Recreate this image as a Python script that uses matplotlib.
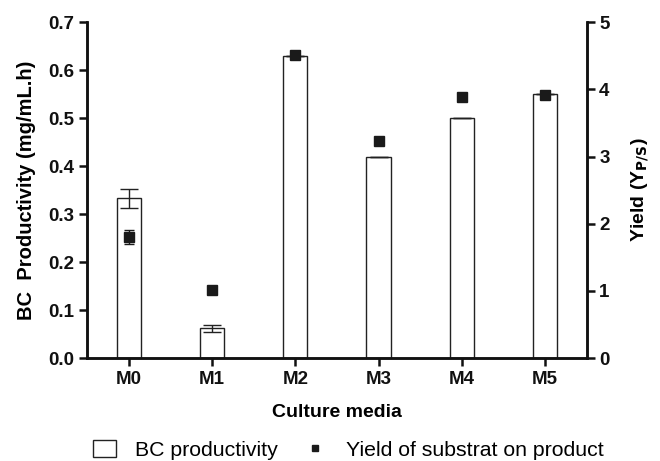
import matplotlib
matplotlib.use('Agg')
import matplotlib.pyplot as plt
from matplotlib.lines import Line2D
from matplotlib.patches import Patch

plt.rcParams['font.family'] = ['Liberation Sans', 'DejaVu Sans']

media = ['M0', 'M1', 'M2', 'M3', 'M4', 'M5']
productivity = [0.333, 0.062, 0.629, 0.420, 0.500, 0.550]
productivity_err = [0.020, 0.007, 0.0, 0.0, 0.0, 0.0]
yield_ps = [1.80, 1.01, 4.51, 3.23, 3.88, 3.91]
yield_err = [0.10, 0.05, 0.0, 0.0, 0.0, 0.0]

fig = plt.figure(figsize=(6.6, 4.61), dpi=100)
ax = fig.add_axes([0.132, 0.223, 0.757, 0.729])
x = list(range(len(media)))

ax.bar(x, productivity, width=0.29, color='white', edgecolor='#222222', linewidth=1.0,
       yerr=productivity_err, error_kw=dict(ecolor='#222222', elinewidth=1.0, capsize=6.5, capthick=1.0))
ax.set_xlim(-0.5, 5.5)
ax.set_ylim(0, 0.7)
ax.set_yticks([0, 0.1, 0.2, 0.3, 0.4, 0.5, 0.6, 0.7])
ax.set_yticklabels(['0.0', '0.1', '0.2', '0.3', '0.4', '0.5', '0.6', '0.7'])
ax.set_xticks(x)
ax.set_xticklabels(media)
ax.set_ylabel('BC  Productivity (mg/mL.h)', fontsize=14.5, fontweight='bold', labelpad=9)
ax.set_xlabel('Culture media', fontsize=14, fontweight='bold', labelpad=12)

ax2 = ax.twinx()
ax2.errorbar(x, yield_ps, yerr=yield_err, fmt='s', color='#1a1a1a', markersize=6.5,
             ecolor='#1a1a1a', elinewidth=1.0, capsize=3.5)
ax2.set_ylim(0, 5)
ax2.set_yticks([0, 1, 2, 3, 4, 5])
ax2.set_ylabel('Yield (Y$_{\\mathbf{P/S}}$)', fontsize=14, fontweight='bold', labelpad=14)

for a in (ax, ax2):
    a.spines['top'].set_visible(False)
    for s in ('left', 'right', 'bottom'):
        a.spines[s].set_linewidth(1.8)
        a.spines[s].set_color('#111111')
    a.tick_params(direction='out', length=6, width=1.8, labelsize=13.5, colors='#111111', pad=3)
    for lab in a.get_xticklabels() + a.get_yticklabels():
        lab.set_fontweight('bold')

handles = [Patch(facecolor='white', edgecolor='#222222', linewidth=1.0, label='BC productivity'),
           Line2D([], [], marker='s', linestyle='none', color='#1a1a1a', markersize=5,
                  label='Yield of substrat on product')]
fig.legend(handles=handles, loc='center', bbox_to_anchor=(0.528, 0.024), ncol=2, frameon=False,
           fontsize=15.3, handlelength=1.08, handleheight=0.85, handletextpad=0.9,
           columnspacing=1.2, borderpad=0, borderaxespad=0)

fig.savefig('out.png', dpi=100)
